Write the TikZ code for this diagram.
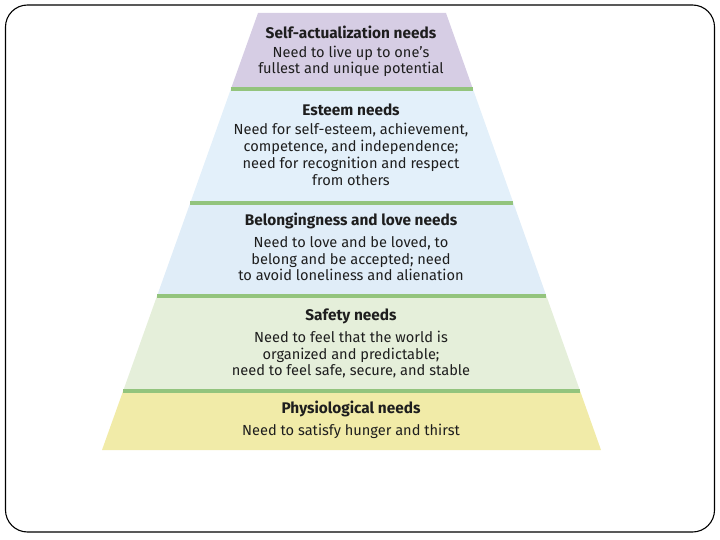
\documentclass[tikz,border=0pt]{standalone}
\usepackage{fontspec}
\setmainfont{Fira Sans}
\usepackage{tikz}
\usetikzlibrary{positioning,calc}
\definecolor{TierPurple}{HTML}{D6CDE4}
\definecolor{TierBlue}{HTML}{E3F0FA}
\definecolor{TierBlueB}{HTML}{E0EDF8}
\definecolor{TierGreen}{HTML}{E5EFDA}
\definecolor{TierYellow}{HTML}{F1EBA8}
\definecolor{RuleGreen}{HTML}{93C47D}
\definecolor{TextDark}{HTML}{1E1E1E}

\begin{document}
\begin{tikzpicture}[
  x=1pt, y=-1pt,
  every node/.style={text=TextDark, align=center, inner sep=0pt},
  head/.style={font=\fontsize{15.4}{17}\selectfont\bfseries},
  desc/.style={font=\fontsize{14.6}{16.8}\selectfont},
  tierrule/.style={RuleGreen, line width=4pt},
  frame/.style={draw=black, line width=1.1pt, rounded corners=22pt},
]
  \useasboundingbox (0,0) rectangle (720,540);

  % Slide frame
  \draw[frame] (5.5,5) rectangle (714.5,532);

  % Tiers
  \fill[TierPurple] (258,13) -- (446,13) -- (473.1,89.5) -- (230.7,89.5) -- cycle;
  \fill[TierBlue]   (230.7,89.5) -- (473.1,89.5) -- (513.4,203) -- (190.2,203) -- cycle;
  \fill[TierBlueB]  (190.2,203) -- (513.4,203) -- (546.4,296) -- (157.0,296) -- cycle;
  \fill[TierGreen]  (157.0,296) -- (546.4,296) -- (580.1,391) -- (123.1,391) -- cycle;
  \fill[TierYellow] (123.1,391) -- (580.1,391) -- (601,450) -- (102,450) -- cycle;

  % Separators
  \draw[tierrule] (230.7,89.5) -- (473.1,89.5);
  \draw[tierrule] (190.2,203) -- (513.4,203);
  \draw[tierrule] (157.0,296) -- (546.4,296);
  \draw[tierrule] (123.1,391) -- (580.1,391);

  % Labels
  \node[head] (selfH) at (351,32) {Self-actualization needs};
  \node[desc, below=7pt of selfH] (selfT)
    {Need to live up to one’s\\fullest and unique potential};

  \node[head] (estH) at (351,110) {Esteem needs};
  \node[desc, below=7pt of estH] (estT)
    {Need for self-esteem, achievement,\\competence, and independence;\\need for recognition and respect\\from others};

  \node[head] (belH) at (351,221) {Belongingness and love needs};
  \node[desc, below=7pt of belH] (belT)
    {Need to love and be loved, to\\belong and be accepted; need\\to avoid loneliness and alienation};

  \node[head] (safH) at (351,316) {Safety needs};
  \node[desc, below=7pt of safH] (safT)
    {Need to feel that the world is\\organized and predictable;\\need to feel safe, secure, and stable};

  \node[head] (phyH) at (351,409) {Physiological needs};
  \node[desc, below=7pt of phyH] (phyT)
    {Need to satisfy hunger and thirst};
\end{tikzpicture}
\end{document}
